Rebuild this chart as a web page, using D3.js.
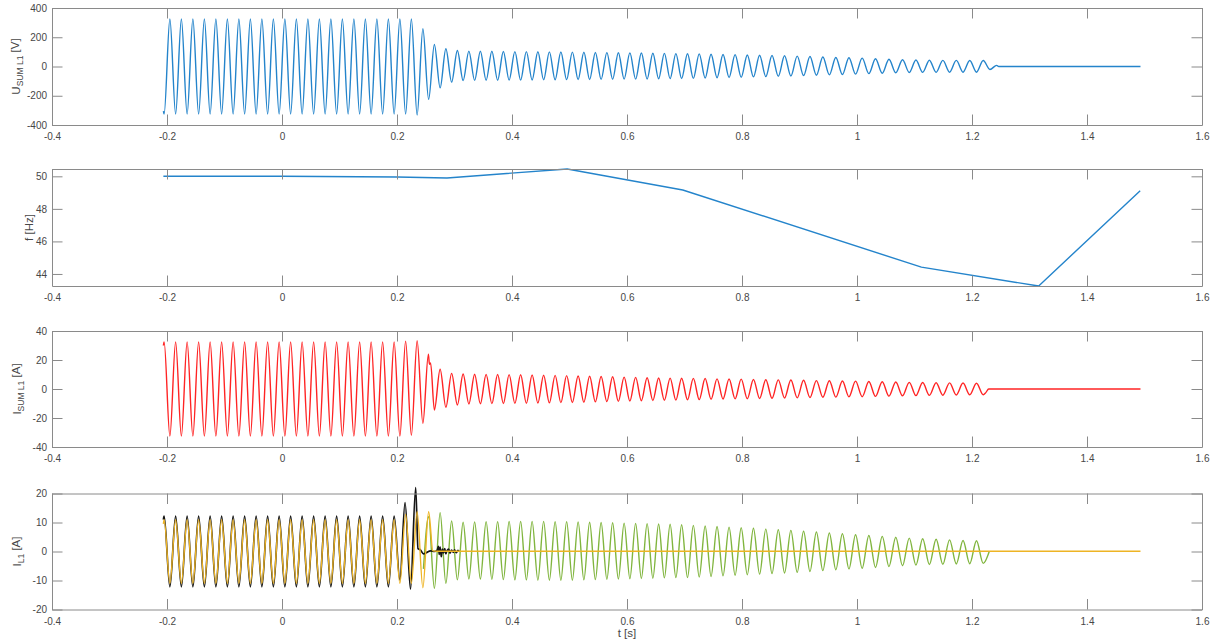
<!DOCTYPE html>
<html>
<head>
<meta charset="utf-8">
<script src="https://cdn.jsdelivr.net/npm/d3@7"></script>
<style>
  body { margin: 0; background: #fff; }
  svg { display: block; font-family: "Liberation Sans", Arial, Helvetica, sans-serif; }
</style>
</head>
<body>
<svg id="fig" width="1216" height="643"></svg>
<script>
// ---------------------------------------------------------------------------
// Recorded quantities. Times are in milliseconds, values in the panel's unit.
// Waveforms are given by their successive extrema (peaks and troughs).
// ---------------------------------------------------------------------------

// instants of the successive extrema of the 50 Hz oscillation (ms)
const tExt = [
  -205,-195,-185,-175,-165,-155,-145,-135,-125,-115,
  -105,-95,-85,-75,-65,-55,-45,-35,-25,-15,
  -5,5,15,25,35,45,55,65,75,85,
  95,105,115,125,135,145,155,165,175,185,
  195,205,215,225,235,245,255,265,275,285,
  295,305,315,325,335,345,355,365,375,385,
  395,405,415,425,435,445,455,465,475,485,
  495,505,515,525,535,545,555,565,575,585,
  595,605,615,625,635,645,655,665,675,685,
  695,705.2,715.4,725.6,735.9,746.2,756.6,767.0,777.5,788.0,
  798.6,809.2,819.9,830.6,841.4,852.2,863.1,874.0,885.0,896.0,
  907.1,918.2,929.4,940.6,951.9,963.2,974.6,986.0,997.5,1009.0,
  1020.6,1032.2,1043.9,1055.6,1067.4,1079.2,1090.9,1102.5,1114.2,1125.9,
  1137.6,1149.3,1161.0,1172.7,1184.4,1196.1,1207.8,1219.5,1231.2
];

// U_SUM L1 [V]
const uT = [-206.3, ...tExt, 1243, 1246.5, 1493];
const uV = [
  -305,
  -325,325,-325,325,-325,325,-325,325,-325,325,
  -325,325,-325,325,-325,325,-325,325,-325,325,
  -325,325,-325,325,-325,325,-325,325,-325,325,
  -325,325,-325,325,-325,325,-325,325,-325,325,
  -325,325,-325,325,
  -332,258,-225,150,-146,121,-107,109,-96,105,
  -95,104,-94,104,-94,103,-93,102,-93,102,-92,101,-91,100,-91,99,-90,98,
  -89,97,-89,96,-88,95,-87,94,-86,93,-86,92,-85,91,-84,90,-83,88,
  -82,87,-81,86,-79,84,-77,82,-75,81,-73,79,-71,77,-69,75,-67,73,-65,71,
  -62,68,-60,65,-57,62,-55,60,-52,57,-49,53,-46,50,-43,46,-41,44,-40,43,
  -40,42,-39,42,-39,41,-39,41,-20,
  8, 0, 0
];

// f [Hz]
const fT = [-206.3, 0, 200, 287, 496, 697, 1112, 1316, 1492.5];
const fV = [50.0, 50.0, 49.96, 49.9, 50.45, 49.16, 44.42, 43.26, 49.12];

// I_SUM L1 [A]
const iT = [-206.3, ...tExt.slice(0, 46), 254.6, 256.4, 258.4, ...tExt.slice(47, 138), 1224, 1229, 1493];
const iV = [
  30,
  32.5,-32.5,32.5,-32.5,32.5,-32.5,32.5,-32.5,32.5,-32.5,
  32.5,-32.5,32.5,-32.5,32.5,-32.5,32.5,-32.5,32.5,-32.5,
  32.5,-32.5,32.5,-32.5,32.5,-32.5,32.5,-32.5,32.5,-32.5,
  32.5,-32.5,32.5,-32.5,32.5,-32.5,32.5,-32.5,32.5,-32.5,
  32.5,-32.5,
  33,-32,33.3,-23.7,
  24,17,18,
  -14.5,13.6,-12.6,10.8,-11,10.3,-10.3,
  10.2,-10.2,10.1,-10.1,10.0,-10.0,9.9,-9.9,9.8,-9.8,9.7,-9.7,9.5,-9.6,9.4,-9.4,9.2,-9.3,
  9.0,-9.1,8.8,-8.9,8.6,-8.7,8.4,-8.5,8.2,-8.3,8.0,-8.1,7.8,-7.9,7.6,-7.8,7.5,-7.7,
  7.4,-7.4,7.3,-7.3,7.2,-7.1,7.0,-6.9,6.9,-6.8,6.8,-6.7,6.6,-6.5,6.4,-6.4,6.3,-6.2,6.2,-6.1,
  6.0,-5.9,5.8,-5.7,5.7,-5.6,5.5,-5.4,5.4,-5.3,5.2,-5.1,5.0,-4.9,4.8,-4.7,4.6,-4.6,4.5,-4.4,
  4.3,-4.3,4.2,-4.1,4.1,-4.0,4.0,-4.0,
  -2.5, 0, 0
];

// I_L1 [A] -- three traces
const gT = [246, ...tExt.slice(46, 138), 1230];
const gV = [
  -6,
  12,-12.7,13.4,-11,10.5,-9.8,10.1,-9.5,
  10.2,-9.5,10.3,-9.6,10.3,-9.7,10.4,-9.8,10.4,-9.8,10.4,-9.9,10.4,-9.9,10.3,-9.9,10.3,-9.9,
  10.2,-9.8,10.1,-9.7,10.0,-9.6,9.9,-9.5,9.8,-9.4,9.7,-9.3,9.6,-9.2,9.5,-9.1,9.4,-9.0,
  9.2,-9.0,9.0,-8.8,8.8,-8.6,8.6,-8.4,8.4,-8.2,8.2,-8.0,8.0,-7.8,7.7,-7.6,7.5,-7.4,7.3,-7.2,
  7.0,-6.9,6.7,-6.6,6.4,-6.3,6.1,-6.0,5.8,-5.8,5.5,-5.5,5.2,-5.2,4.9,-4.9,4.6,-4.7,4.4,-4.5,
  4.2,-4.4,4.0,-4.3,3.8,-4.2,3.7,-4.1,
  0
];

const kT = [-206.3, ...tExt.slice(0, 42), 214, 223.5, 232.5, 236.5, 241, 246, 252, 258, 265,
  270, 272, 273.5, 275, 277, 279, 281, 283, 285, 287, 290, 292, 295, 298, 300, 303, 306, 308];
const kV = [
  11,
  12.2,-12.2,12.2,-12.2,12.2,-12.2,12.2,-12.2,12.2,-12.2,
  12.2,-12.2,12.2,-12.2,12.2,-12.2,12.2,-12.2,12.2,-12.2,
  12.2,-12.2,12.2,-12.2,12.2,-12.2,12.2,-12.2,12.2,-12.2,
  12.2,-12.2,12.2,-12.2,12.2,-12.2,12.2,-12.2,12.2,-12.2,
  12.2,-9.8,
  16.9,-13,22,1,0.5,-0.8,-0.3,0.2,0,
  0.5,1.8,-1,1.5,-1.8,0.8,-0.5,1,-0.8,0.3,0.8,-0.6,0.5,-0.3,0.6,-0.4,0.4,0
];

const yT = [-206.3, ...tExt.slice(0, 47), 262.5, 270, 1493];
const yV = [
  9.5,
  11,-11,11,-11,11,-11,11,-11,11,-11,
  11,-11,11,-11,11,-11,11,-11,11,-11,
  11,-11,11,-11,11,-11,11,-11,11,-11,
  11,-11,11,-11,11,-11,11,-11,11,-11,
  11,-11,
  12.8,-11,13.7,-12.5,13.7,
  0.2, 0.1, 0.1
];

const xTicks = [-0.4, -0.2, 0, 0.2, 0.4, 0.6, 0.8, 1, 1.2, 1.4, 1.6];

// ---------------------------------------------------------------------------
// Figure layout
// ---------------------------------------------------------------------------
const svg = d3.select("#fig");
const x = d3.scaleLinear().domain([-0.4, 1.6]).range([52, 1202]);
const TICK = 10.5;
const AXIS_COL = "#8a8a8a";
const TEXT_COL = "#474747";

const panels = [
  { top: 8, bottom: 125, domain: [-400, 400], ticks: [-400, -200, 0, 200, 400],
    label: { main: "U", sub: "SUM L1", unit: " [V]", x: 20 },
    traces: [{ t: uT, v: uV, color: "#2484cb", curve: d3.curveMonotoneX }] },
  { top: 169, bottom: 286, domain: d3.extent(fV), ticks: [44, 46, 48, 50],
    label: { main: "f [Hz]", sub: "", unit: "", x: 33 },
    traces: [{ t: fT, v: fV, color: "#2484cb", curve: d3.curveLinear }] },
  { top: 331, bottom: 447, domain: [-40, 40], ticks: [-40, -20, 0, 20, 40],
    label: { main: "I", sub: "SUM L1", unit: " [A]", x: 21 },
    traces: [{ t: iT, v: iV, color: "#ff2424", curve: d3.curveMonotoneX }] },
  { top: 493.5, bottom: 609.5, domain: [-20, 20], ticks: [-20, -10, 0, 10, 20],
    label: { main: "I", sub: "L1", unit: " [A]", x: 21 },
    traces: [
      { t: gT, v: gV, color: "#80b53e", curve: d3.curveMonotoneX },
      { t: kT, v: kV, color: "#151515", curve: d3.curveMonotoneX, width: 1.7 },
      { t: yT, v: yV, color: "#eeb424", curve: d3.curveMonotoneX }
    ] }
];

const fmt = d => String(+(+d).toFixed(1));

function styleAxis(g) {
  g.attr("font-family", null).attr("font-size", null);
  g.select(".domain").attr("stroke", AXIS_COL).attr("stroke-width", 1);
  g.selectAll(".tick line").attr("stroke", AXIS_COL).attr("stroke-width", 1);
  g.selectAll(".tick text").attr("fill", TEXT_COL).style("font-size", "10px");
}

panels.forEach(p => {
  const y = d3.scaleLinear().domain(p.domain).range([p.bottom, p.top]);
  const g = svg.append("g");

  // traces
  p.traces.forEach(tr => {
    const pts = d3.zip(tr.t, tr.v);
    const line = d3.line()
      .x(d => x(d[0] / 1000))
      .y(d => y(d[1]))
      .curve(tr.curve);
    g.append("path")
      .attr("d", line(pts))
      .attr("fill", "none")
      .attr("stroke", tr.color)
      .attr("stroke-width", tr.width || 1.4)
      .attr("stroke-linejoin", "round");
  });

  // box axes with inward ticks
  g.append("g").attr("transform", `translate(0,${p.bottom})`)
    .call(d3.axisBottom(x).tickValues(xTicks).tickSizeInner(-TICK).tickSizeOuter(0)
      .tickPadding(8).tickFormat(fmt))
    .call(styleAxis);
  g.append("g").attr("transform", `translate(0,${p.top})`)
    .call(d3.axisTop(x).tickValues(xTicks).tickSizeInner(-TICK).tickSizeOuter(0).tickFormat(""))
    .call(styleAxis);
  g.append("g").attr("transform", `translate(${x.range()[0]},0)`)
    .call(d3.axisLeft(y).tickValues(p.ticks).tickSizeInner(-TICK).tickSizeOuter(0)
      .tickPadding(5).tickFormat(fmt))
    .call(styleAxis);
  g.append("g").attr("transform", `translate(${x.range()[1]},0)`)
    .call(d3.axisRight(y).tickValues(p.ticks).tickSizeInner(-TICK).tickSizeOuter(0).tickFormat(""))
    .call(styleAxis);

  // y label with subscript
  const cy = (p.top + p.bottom) / 2;
  const lab = g.append("text")
    .attr("transform", `translate(${p.label.x},${cy}) rotate(-90)`)
    .attr("text-anchor", "middle")
    .attr("fill", TEXT_COL)
    .style("font-size", "11.5px");
  lab.append("tspan").text(p.label.main);
  if (p.label.sub) {
    lab.append("tspan").attr("dy", "0.35em").style("font-size", "8.5px").text(p.label.sub);
    lab.append("tspan").attr("dy", "-0.35em").text(p.label.unit);
  }
});

// x label under the last panel
svg.append("text")
  .attr("x", x(0.6)).attr("y", 637)
  .attr("text-anchor", "middle")
  .attr("fill", TEXT_COL)
  .style("font-size", "11.5px")
  .text("t [s]");
</script>
</body>
</html>
